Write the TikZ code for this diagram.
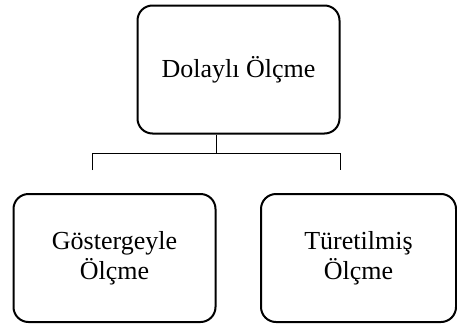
\documentclass[tikz,border=0pt]{standalone}
\usepackage{fontspec}
\setmainfont{Liberation Serif}
\begin{document}
\begin{tikzpicture}[x=1pt,y=-1pt,
  box/.style={draw, line width=2pt, rounded corners=15pt, inner sep=0pt,
    minimum height=128pt, align=center, font=\fontsize{26}{30}\selectfont},
  conn/.style={line width=1pt}]
\useasboundingbox (0,0) rectangle (457,324);
\node[box, minimum width=202pt] (top) at (238.5,69.5) {Dolaylı Ölçme};
\node[box, minimum width=202pt] (left) at (114.5,258) {Göstergeyle\\Ölçme};
\node[box, minimum width=195pt] (right) at (358.5,258) {Türetilmiş\\Ölçme};
\coordinate (j) at (216,153);
\coordinate (l) at (92,170);
\coordinate (r) at (340,170);
\draw[conn] (j |- top.south) -- (j);
\draw[conn] (l) -- (l |- j) -- (r |- j) -- (r);
\end{tikzpicture}
\end{document}
